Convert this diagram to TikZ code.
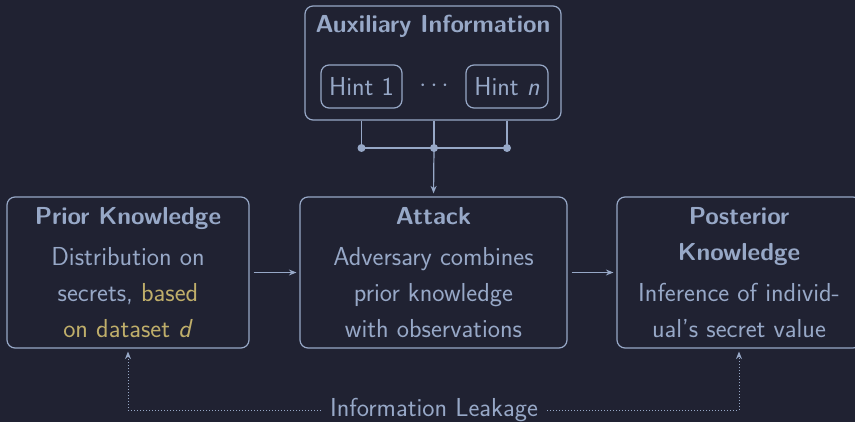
\documentclass[tikz,border=0pt]{standalone}
\usepackage{fontspec}
\usetikzlibrary{arrows.meta}
\definecolor{bgc}{HTML}{202232}
\definecolor{fgc}{HTML}{97A8C7}
\definecolor{accent}{HTML}{BFAE6A}
\tikzset{
  box/.style={draw=fgc, line width=1.2pt, rounded corners=8pt, align=center,
    text=fgc, inner sep=0pt},
  title/.style={text=fgc, font=\sffamily\bfseries\fontsize{24.6}{36}\selectfont},
  plain/.style={text=fgc},
  link/.style={draw=fgc, line width=1.2pt},
  arr/.style={link, -{Stealth[length=7.5pt,width=6pt]}},
  leakarr/.style={draw=fgc, line width=1pt, dotted, -{Stealth[length=7.5pt,width=6pt]}},
  junction/.style={circle, fill=fgc, inner sep=0pt, minimum size=8pt},
}
\newcommand{\hd}[1]{{\bfseries\fontsize{24.6}{36}\selectfont #1}}
\begin{document}
\begin{tikzpicture}[x=1pt, y=-1pt, font=\sffamily\fontsize{26}{36}\selectfont]
  \fill[bgc] (0,0) rectangle (855,422);
  \useasboundingbox (0,0) rectangle (855,422);

  % auxiliary information with its hints
  \node[box, minimum width=256pt, minimum height=114pt] (aux) at (433,63) {};
  \node[title] (auxt) at (433,26) {Auxiliary Information};
  \node[box, minimum width=81pt, minimum height=43pt] (h1) at (361.5,86.5) {Hint 1};
  \node[box, minimum width=82pt, minimum height=43pt] (hn) at (507,86.5) {Hint \textit{n}};
  \node[plain] (hdots) at (434,86) {$\cdots$};

  % joining the hints
  \node[junction] (j1) at (361.5,148) {};
  \node[junction] (j2) at (434,148) {};
  \node[junction] (j3) at (507,148) {};
  \draw[link] (h1.center |- aux.south) -- (j1.center);
  \draw[link] (j2.center |- aux.south) -- (j2.center);
  \draw[link] (hn.center |- aux.south) -- (j3.center);
  \draw[link] (j1.center) -- (j3.center);

  % main stages
  \node[box, minimum width=242pt, minimum height=151pt] (prior) at (128,272.5)
    {\hd{Prior Knowledge}\\[5pt] Distribution on\\ secrets, \textcolor{accent}{based}\\
     \textcolor{accent}{on dataset \textit{d}}};
  \node[box, minimum width=267pt, minimum height=151pt] (attack) at (433.5,272.5)
    {\hd{Attack}\\[5pt] Adversary combines\\ prior knowledge\\ with observations};
  \node[box, minimum width=244pt, minimum height=151pt] (post) at (739,272.5)
    {\hd{Posterior}\\ \hd{Knowledge}\\[5pt] Inference of individ-\\ ual's secret value};

  \draw[arr, shorten >=3pt] (j2.center) -- (attack.north);
  \draw[arr, shorten <=4pt, shorten >=3pt] (prior) -- (attack);
  \draw[arr, shorten <=4pt, shorten >=3pt] (attack) -- (post);

  % leakage feedback
  \node[plain, inner xsep=9pt] (leak) at (434,410) {Information Leakage};
  \coordinate (lkL) at (prior.south |- leak.center);
  \coordinate (lkR) at (post.south |- leak.center);
  \draw[leakarr, shorten >=3pt] (leak.west) -- (lkL) -- (prior.south);
  \draw[leakarr, shorten >=3pt] (leak.east) -- (lkR) -- (post.south);
\end{tikzpicture}
\end{document}
